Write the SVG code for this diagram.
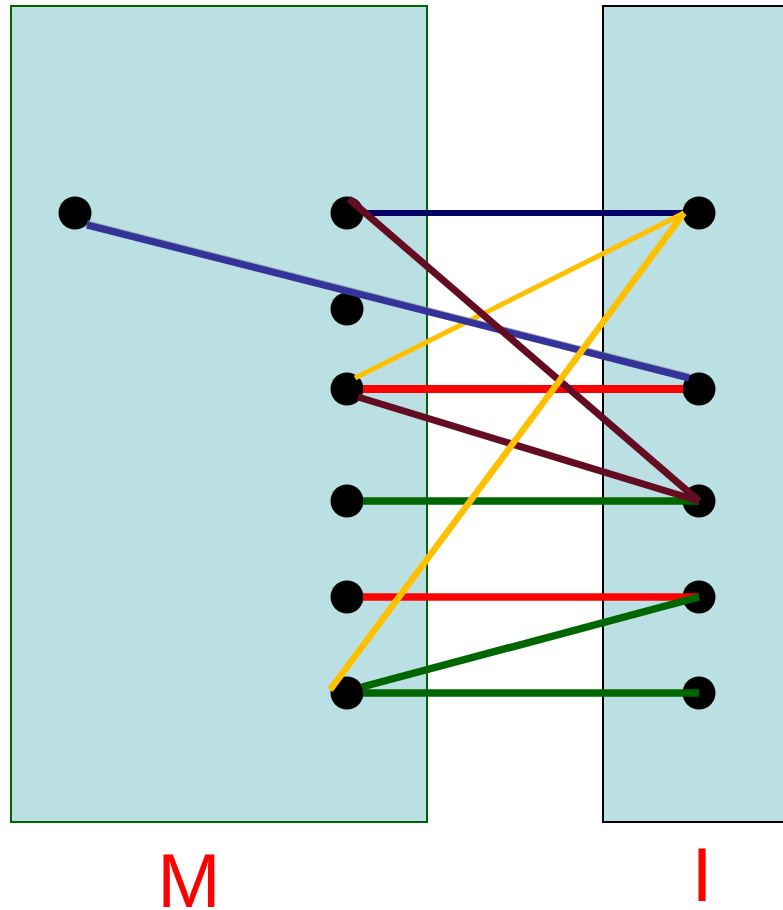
<svg xmlns="http://www.w3.org/2000/svg" width="783" height="910" viewBox="0 0 783 910">
<style>
.box{fill:#BBE0E3;stroke-width:2}
.n{fill:#000}
.c{fill:none;stroke-linecap:butt}
.lbl{font-family:"Liberation Sans",Arial,sans-serif;font-size:76px;fill:#FF0000;text-anchor:middle}
</style>
<rect width="783" height="910" fill="#fff"/>
<g id="M">
<rect class="box" x="11" y="6" width="416" height="816" stroke="#006600"/>
<text class="lbl" x="189" y="907">M</text>
</g>
<g id="I">
<rect class="box" x="603" y="6" width="200" height="816" stroke="#000"/>
<text class="lbl" x="702" y="901">I</text>
</g>
<g id="nodes">
<circle id="m0" class="n" cx="75" cy="213" r="16.5"/>
<circle id="m1" class="n" cx="347" cy="213" r="16.5"/>
<circle id="m2" class="n" cx="347" cy="309" r="16.5"/>
<circle id="m3" class="n" cx="347" cy="389" r="16.5"/>
<circle id="m4" class="n" cx="347" cy="501" r="16.5"/>
<circle id="m5" class="n" cx="347" cy="597" r="16.5"/>
<circle id="m6" class="n" cx="347" cy="693" r="16.5"/>
<circle id="i1" class="n" cx="699" cy="213" r="16.5"/>
<circle id="i2" class="n" cx="699" cy="389" r="16.5"/>
<circle id="i3" class="n" cx="699" cy="501" r="16.5"/>
<circle id="i4" class="n" cx="699" cy="597" r="16.5"/>
<circle id="i5" class="n" cx="699" cy="693" r="16.5"/>
</g>
<g id="connectors" class="c">
<line x1="363" y1="213" x2="683" y2="213" stroke="#000066" stroke-width="6"/>
<line x1="363" y1="389" x2="683" y2="389" stroke="#FF0000" stroke-width="8"/>
<line x1="363" y1="501" x2="699" y2="501" stroke="#006600" stroke-width="7.5"/>
<line x1="363" y1="597" x2="699" y2="597" stroke="#FF0000" stroke-width="7.5"/>
<line x1="363" y1="693" x2="699" y2="693" stroke="#006600" stroke-width="7.5"/>
<line x1="358" y1="397" x2="699" y2="501" stroke="#640C22" stroke-width="7"/>
<line x1="355" y1="378" x2="684" y2="213" stroke="#FFC000" stroke-width="5"/>
<line x1="87" y1="223.5" x2="689" y2="376.5" stroke="#8a8a8a" stroke-width="6" opacity="0.7"/>
<line x1="87" y1="225" x2="689" y2="378" stroke="#333399" stroke-width="7"/>
<line x1="349" y1="199" x2="699" y2="501" stroke="#640C22" stroke-width="7"/>
<line x1="330" y1="690" x2="684" y2="213" stroke="#FFC000" stroke-width="6.5"/>
<line x1="362" y1="687" x2="699" y2="597" stroke="#006600" stroke-width="7.5"/>
</g>
</svg>
